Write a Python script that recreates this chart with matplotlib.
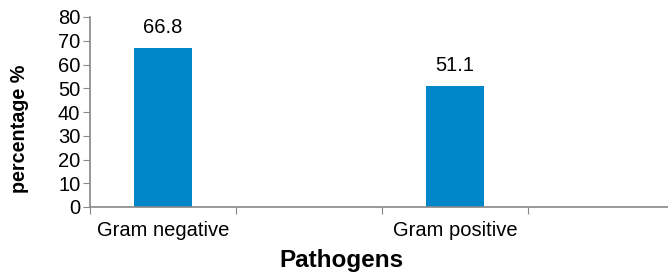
import matplotlib
matplotlib.use("Agg")
import matplotlib.pyplot as plt

plt.rcParams["font.family"] = ["Liberation Sans", "DejaVu Sans"]

# category slots (two of them are empty in the original chart)
categories = ["Gram negative", "", "Gram positive", ""]
values = [66.8, None, 51.1, None]
yticks = [0, 10, 20, 30, 40, 50, 60, 70, 80]

fig = plt.figure(figsize=(6.68, 2.74), dpi=100)
ax = fig.add_axes([90 / 668, 67 / 274, 584 / 668, 190 / 274])

xs = [i for i, v in enumerate(values) if v is not None]
vs = [v for v in values if v is not None]
bars = ax.bar(xs, vs, width=0.4, color="#0087C9")

for x, v in zip(xs, vs):
    ax.annotate(f"{v:.1f}", (x, v), xytext=(0, 8), textcoords="offset points",
                ha="center", va="bottom", fontsize=14.5)

ax.set_xlim(-0.5, len(categories) - 0.5)
ax.set_ylim(0, 80)
ax.set_yticks(yticks)
ax.set_yticklabels([str(t) for t in yticks], fontsize=14.5)

# category boundaries carry the tick marks, labels sit in between
ax.set_xticks([i - 0.5 for i in range(len(categories) + 1)])
ax.set_xticklabels([])
ax.set_xticks(range(len(categories)), minor=True)
ax.set_xticklabels(categories, minor=True, fontsize=14.5)
ax.tick_params(axis="x", which="minor", length=0, pad=10)
ax.tick_params(axis="x", which="major", length=5, color="#888888", direction="out")
ax.tick_params(axis="y", length=5, color="#888888", pad=2)

for s in ["top", "right"]:
    ax.spines[s].set_visible(False)
for s in ["left", "bottom"]:
    ax.spines[s].set_color("#888888")
    ax.spines[s].set_linewidth(1.2)

fig.text(20 / 668, 1 - 129 / 274, "percentage %", rotation=90, ha="center",
         va="center", fontsize=14.2, fontweight="bold")
fig.text(341 / 668, 1 - 260 / 274, "Pathogens", ha="center", va="center",
         fontsize=17.5, fontweight="bold")

fig.savefig("out.png", dpi=100)
